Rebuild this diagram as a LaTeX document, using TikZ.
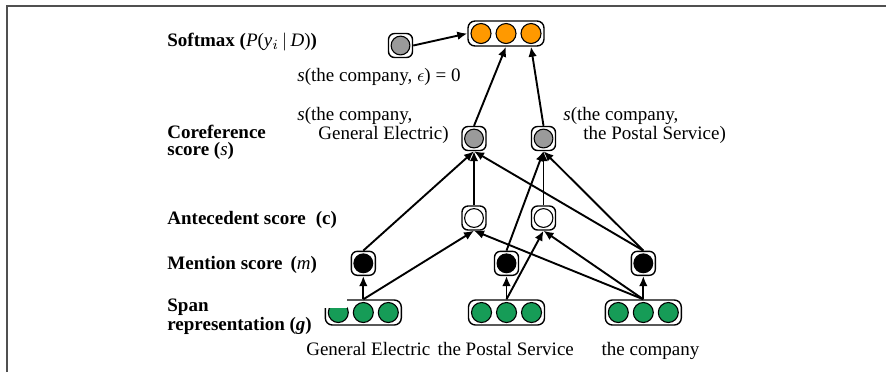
\documentclass[tikz,border=0pt]{standalone}
\usepackage{fontspec}
\setmainfont{Liberation Serif}
\usetikzlibrary{arrows.meta}
\definecolor{spgreen}{HTML}{169C57}
\definecolor{sporange}{HTML}{FF9900}
\definecolor{spgray}{HTML}{9A9A9A}
\definecolor{framegray}{HTML}{505050}
\begin{document}
\begin{tikzpicture}[x=0.5pt,y=-0.5pt,
  font=\fontsize{9.5}{8.4}\selectfont,
  cell/.style={draw=black, line width=0.7pt, fill=white, rounded corners=3pt,
    minimum width=12pt, minimum height=12pt, inner sep=0pt},
  wide/.style={cell, rounded corners=3.5pt, minimum width=38pt, minimum height=12.5pt},
  unit/.style={circle, draw=black, line width=0.55pt, minimum size=9.4pt, inner sep=0pt},
  bunit/.style={unit, minimum size=10pt},
  link/.style={line width=0.95pt, -{Latex[length=5pt,width=4.3pt]}},
  lbl/.style={anchor=west, inner sep=0pt, align=left},
  lblb/.style={anchor=base west, inner sep=0pt},
  word/.style={anchor=base, inner sep=0pt}]
\useasboundingbox (0,0) rectangle (886,372);
% frame
\draw[framegray, line width=1pt] (7,372) -- (7,6) -- (886,6);

% softmax layer
\node[cell] (eps) at (400.5,45.5) {};
\node[unit, fill=spgray] (epsc) at (eps) {};
\node[wide] (soft) at (506,33.5) {};
\foreach \i/\dx in {1/-25,2/0,3/25}
  \node[bunit, fill=sporange] (o\i) at ({506+\dx},33.5) {};

% coreference score
\node[cell] (c1) at (474,138.5) {};
\node[unit, fill=spgray] (c1c) at (c1) {};
\node[cell] (c2) at (543.5,138.5) {};
\node[unit, fill=spgray] (c2c) at (c2) {};

% antecedent score
\node[cell] (a1) at (474,218) {};
\node[unit, fill=white] (a1c) at (a1) {};
\node[cell] (a2) at (543.5,218) {};
\node[unit, fill=white] (a2c) at (a2) {};

% mention score
\node[cell] (m1) at (363.3,263.3) {};
\node[unit, fill=black] (m1c) at (m1) {};
\node[cell] (m2) at (506.5,263.3) {};
\node[unit, fill=black] (m2c) at (m2) {};
\node[cell] (m3) at (643.3,263.3) {};
\node[unit, fill=black] (m3c) at (m3) {};

% span representations
\node[wide] (g1) at (363.3,312.5) {};
\node[wide] (g2) at (506.5,312.5) {};
\node[wide] (g3) at (643.3,312.5) {};
\foreach \g/\cx in {g1/363.3,g2/506.5,g3/643.3}
  \foreach \i/\dx in {1/-25,2/0,3/25}
    \node[bunit, fill=spgreen] (\g c\i) at ({\cx+\dx},312.5) {};
\fill[white] (324,298) rectangle (346.5,308.3);

% connectors
\draw[link] (eps.east) -- (soft.west);
\draw[link] (c1.north) -- (o2.south |- soft.south);
\draw[link] (c2.north) -- (o3.south |- soft.south);
\draw[link] (a1.north) -- (c1.south);
\draw[link] (a2.north) -- (c2.south);
\draw[link] (m1.north) -- (c1.south);
\draw[link] (m3.north) -- (c1.south);
\draw[link] (m2.north) -- (c2.south);
\draw[link] (m3.north) -- (c2.south);
\draw[link] (g1.north) -- (a1.south);
\draw[link] (g3.north) -- (a1.south);
\draw[link] (g2.north) -- (a2.south);
\draw[link] (g3.north) -- (a2.south);
\draw[link] (g1.north) -- (m1.south);
\draw[link] (g2.north) -- (m2.south);
\draw[link] (g3.north) -- (m3.south);

% layer labels
\node[lblb] (tSoft) at (167,46.7) {\textbf{Softmax (}\textit{P}(\textit{y}$_i$\,$\mid$\,\textit{D})\textbf{)}};
\node[lblb] (tEps) at (297,81.5) {\textit{s}(the company, $\epsilon$) = 0};
\node[lbl] (tGE) at (297,125.5) {\textit{s}(the company,\\\hspace*{10.5pt}General Electric)};
\node[lbl] (tPS) at (563,125.5) {\textit{s}(the company,\\\hspace*{10pt}the Postal Service)};
\node[lbl] (tCoref) at (167,142.5) {\textbf{Coreference}\\\textbf{score (}\textit{s}\textbf{)}};
\node[lblb] (tAnt) at (167,224) {\textbf{Antecedent score\hspace{5pt}(c)}};
\node[lblb] (tMen) at (167,269.3) {\textbf{Mention score\hspace{4pt}(}\textit{m}\textbf{)}};
\node[lbl] (tSpan) at (167,316.5) {\textbf{Span}\\\textbf{representation (\textit{g})}};

% words
\node[word] (wGE) at (368.3,355) {General Electric};
\node[word] (wPS) at (505.8,355) {the Postal Service};
\node[word] (wCo) at (650.5,355) {the company};
\end{tikzpicture}
\end{document}
